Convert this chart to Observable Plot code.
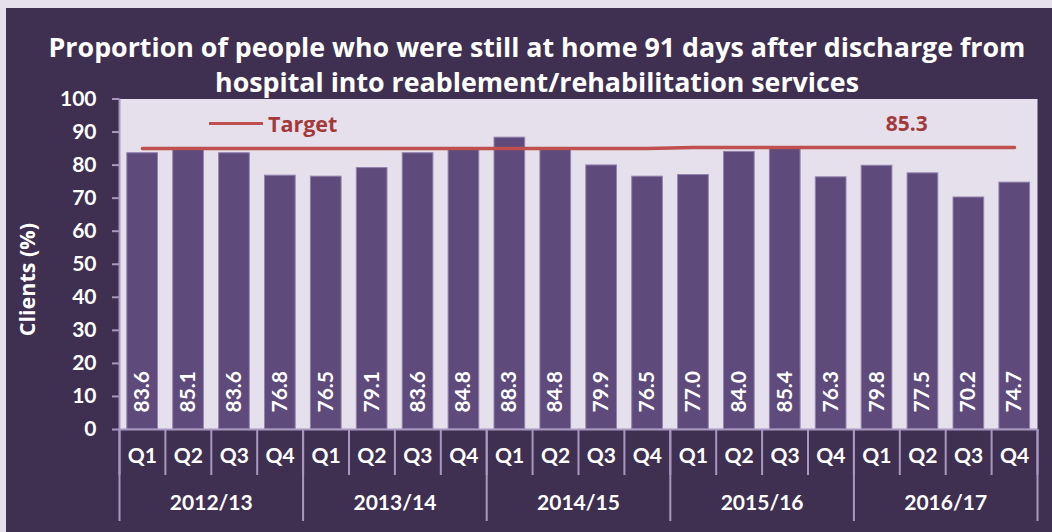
<!DOCTYPE html>
<html>
<head>
<meta charset="utf-8">
<script src="https://cdn.jsdelivr.net/npm/d3@7"></script>
<script src="https://cdn.jsdelivr.net/npm/@observablehq/plot@0.6"></script>
<style>
  html, body { margin: 0; padding: 0; background: #e6e0ec; }
  #panel { position: absolute; left: 6px; top: 8px; width: 1046px; height: 524px; background: #3f2f51; overflow: hidden; }
  #title { position: absolute; left: 0; top: 21px; width: 1062px; text-align: center; color: #fff;
           font-family: "Open Sans", Lato, sans-serif; font-weight: bold; font-size: 26.8px; line-height: 35px; }
  #legend { position: absolute; left: 203px; top: 101px; display: flex; align-items: center;
            font-family: "Open Sans", sans-serif; font-weight: bold; font-size: 21.5px; color: #a33a3a; }
  #legend .sw { width: 54px; height: 0; border-top: 3.5px solid #c0504d; margin-right: 5px; }
  #chart { position: absolute; left: 0; top: 0; }
</style>
</head>
<body>
<div id="panel">
  <div id="chart"></div>
  <div id="title">Proportion of people who were still at home 91 days after discharge from<br>hospital into reablement/rehabilitation services</div>
  <div id="legend"><span class="sw"></span><span>Target</span></div>
</div>
<script>
const years = ["2012/13", "2013/14", "2014/15", "2015/16", "2016/17"];
const quarters = ["Q1", "Q2", "Q3", "Q4"];
const values = [83.6, 85.1, 83.6, 76.8, 76.5, 79.1, 83.6, 84.8, 88.3, 84.8, 79.9, 76.5, 77.0, 84.0, 85.4, 76.3, 79.8, 77.5, 70.2, 74.7];
const targets = [85.0, 85.0, 85.0, 85.0, 85.0, 85.0, 85.0, 85.0, 85.0, 85.0, 85.0, 85.0, 85.3, 85.3, 85.3, 85.3, 85.3, 85.3, 85.3, 85.3];
const targetLabel = "85.3";
const yTicks = [0, 10, 20, 30, 40, 50, 60, 70, 80, 90, 100];

const rows = values.map((v, i) => ({
  i0: i, i1: i + 1, mid: i + 0.5, value: v, target: targets[i],
  quarter: quarters[i % 4], year: years[Math.floor(i / 4)]
}));
const boundaries = rows.map(d => d.i0).concat([values.length]);
const yearBounds = boundaries.filter(b => b % 4 === 0);
const yearMids = years.map((y, k) => k * 4 + 2);

const axisColor = "#a898c0";
const font = "Lato, 'Open Sans', sans-serif";

const chart = Plot.plot({
  width: 1046,
  height: 524,
  marginLeft: 113,
  marginRight: 15,
  marginTop: 90.5,
  marginBottom: 103,
  style: { background: "transparent", fontFamily: font, overflow: "visible" },
  x: { type: "linear", domain: [0, values.length], axis: null },
  y: { domain: [0, 100], axis: null },
  marks: [
    Plot.frame({ fill: "#e6e0ec", stroke: null }),
    Plot.rectY(rows, { x1: "i0", x2: "i1", y: "value", insetLeft: 7.8, insetRight: 7.4, fill: "#5f4a7c", stroke: "#9283ae", strokeWidth: 1 }),
    Plot.text(rows, { x: "mid", y: 0, text: d => d.value.toFixed(1), rotate: -90, textAnchor: "start", lineAnchor: "middle", dy: -17, fill: "#fff", fontWeight: "bold", fontSize: 21 }),
    Plot.line(rows, { x: "mid", y: "target", stroke: "#c0504d", strokeWidth: 3.5 }),
    Plot.text([rows[rows.length - 3]], { x: "mid", y: "target", text: () => targetLabel, dy: -23, dx: -16, fill: "#a33a3a", fontWeight: "bold", fontSize: 21, fontFamily: "'Open Sans', sans-serif" }),
    Plot.ruleX([0], { stroke: axisColor, strokeWidth: 2 }),
    Plot.ruleY([0], { stroke: axisColor, strokeWidth: 2 }),
    Plot.axisY({ ticks: yTicks, tickSize: 7, tickPadding: 16, stroke: axisColor, strokeWidth: 2, fill: "#fff", fontWeight: "bold", fontSize: 21, label: null }),
    Plot.axisX({ anchor: "bottom", ticks: boundaries, tickSize: 46, stroke: axisColor, strokeWidth: 2, tickFormat: () => "", label: null }),
    Plot.axisX({ anchor: "bottom", ticks: yearBounds, tickSize: 92, stroke: axisColor, strokeWidth: 2, tickFormat: () => "", label: null }),
    Plot.axisX({ anchor: "bottom", ticks: rows.map(d => d.mid), tickSize: 0, tickPadding: 19, tickFormat: d => quarters[Math.floor(d) % 4], fill: "#fff", fontWeight: "bold", fontSize: 21, label: null }),
    Plot.axisX({ anchor: "bottom", ticks: yearMids, tickSize: 0, tickPadding: 66, tickFormat: d => years[Math.floor(d / 4)], fill: "#fff", fontWeight: "bold", fontSize: 21, label: null }),
    Plot.text(["Clients (%)"], { frameAnchor: "left", rotate: -90, dx: -91, dy: 72, fill: "#fff", fontWeight: "bold", fontSize: 21.5, fontFamily: "'Open Sans', sans-serif" })
  ]
});
document.getElementById("chart").appendChild(chart);
</script>
</body>
</html>
